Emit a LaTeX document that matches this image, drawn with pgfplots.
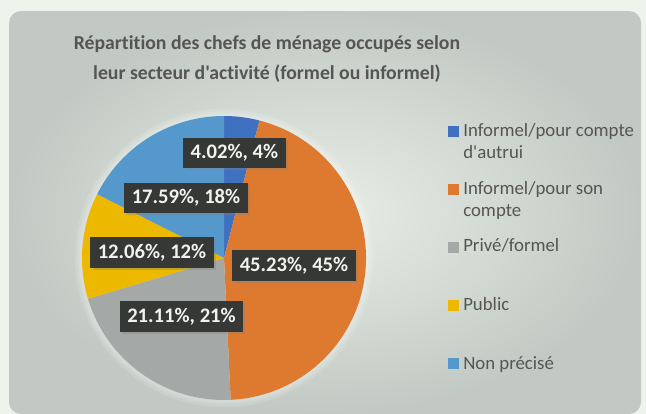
\documentclass[border=0pt]{standalone}
\usepackage{fontspec}
\setmainfont{Carlito}[Ligatures={TeXOff,NoCommon}]
\usepackage{pgfplots}
\pgfplotsset{compat=1.18}
\usepackage{pgfplotstable}
\usetikzlibrary{shadows}

\definecolor{sliceA}{HTML}{4070C0}
\definecolor{sliceB}{HTML}{DE7A2F}
\definecolor{sliceC}{HTML}{A4A9A7}
\definecolor{sliceD}{HTML}{EDB800}
\definecolor{sliceE}{HTML}{5599CC}
\definecolor{pagebg}{HTML}{EEF4EC}
\definecolor{panelout}{HTML}{C2C9C4}
\definecolor{panelin}{HTML}{E8EEE6}
\definecolor{txtgray}{HTML}{555555}
\definecolor{lblbox}{HTML}{363836}
\definecolor{lbltxt}{HTML}{F2F2EE}

% value, colour, label centre (px)
\pgfplotstableread{
value col   lx    ly
4.02  sliceA 234.5 153
45.23 sliceB 294   265.5
21.11 sliceC 181.5 316.5
12.06 sliceD 152   252.5
17.59 sliceE 186   198
}\piedata

\begin{document}
\begin{tikzpicture}
\begin{axis}[
    scale only axis, width=484.5pt, height=310.5pt,
    xmin=0, xmax=646, ymin=0, ymax=414, y dir=reverse,
    hide axis, clip=false]
\pgfplotsextra{
  % background
  \fill[pagebg] (axis cs:0,0) rectangle (axis cs:646,414);
  \shade[inner color=panelin, outer color=panelout, rounded corners=9pt]
     (axis cs:9,11) rectangle (axis cs:641,414);
  % soft glow around the pie
  \foreach \g in {112,110,108.5} {
    \fill[white, opacity=0.12] (axis cs:224,258) circle[radius=\g pt];
  }
  % slices
  \pgfplotstablegetrowsof{\piedata}
  \pgfmathtruncatemacro\nrows{\pgfplotsretval-1}
  \gdef\cum{0}
  \foreach \i in {0,...,\nrows} {
    \pgfplotstablegetelem{\i}{value}\of\piedata \let\pv\pgfplotsretval
    \pgfplotstablegetelem{\i}{col}\of\piedata \let\pc\pgfplotsretval
    \pgfmathsetmacro\sa{90-3.6*\cum}
    \pgfmathsetmacro\sb{90-3.6*(\cum+\pv)}
    \fill[fill=\pc] (axis cs:224,258) -- ++(\sa:106.5pt)
       arc[start angle=\sa, end angle=\sb, radius=106.5pt] -- cycle;
    \pgfmathsetmacro\nc{\cum+\pv}\xdef\cum{\nc}
  }
  % data labels
  \foreach \i in {0,...,\nrows} {
    \pgfplotstablegetelem{\i}{value}\of\piedata \let\pv\pgfplotsretval
    \pgfplotstablegetelem{\i}{lx}\of\piedata \let\px\pgfplotsretval
    \pgfplotstablegetelem{\i}{ly}\of\piedata \let\py\pgfplotsretval
    \node[fill=lblbox, text=lbltxt, font=\bfseries\fontsize{15.5}{18}\selectfont,
          inner xsep=5.5pt, inner ysep=0pt, minimum height=23pt,
          drop shadow={shadow xshift=1.6pt, shadow yshift=-1.6pt, opacity=0.35}]
      at (axis cs:\px,\py)
      {\pgfmathprintnumber[fixed, fixed zerofill, precision=2, assume math mode=true]{\pv}\%,
       \pgfmathprintnumber[fixed, precision=0, assume math mode=true]{\pv}\%};
  }
}
% title
\node[font=\bfseries\fontsize{14.8}{22.5}\selectfont, text=txtgray, align=center]
  at (axis cs:267,59) {Répartition des chefs de ménage occupés selon\\leur secteur d'activité (formel ou informel)};
% legend
\begin{scope}[every node/.style={anchor=base west, inner sep=0pt, text=txtgray,
     font=\fontsize{14.1}{17}\selectfont}]
  \fill[sliceA] (axis cs:448,125.5) rectangle (axis cs:459,136.5);
  \node at (axis cs:463,136.5) {Informel/pour compte};
  \node at (axis cs:463,158.5) {d'autrui};
  \fill[sliceB] (axis cs:448,183.5) rectangle (axis cs:459,194.5);
  \node at (axis cs:463,194.3) {Informel/pour son};
  \node at (axis cs:463,216) {compte};
  \fill[sliceC] (axis cs:448,241.5) rectangle (axis cs:459,252.5);
  \node at (axis cs:463,251.7) {Privé/formel};
  \fill[sliceD] (axis cs:448,300) rectangle (axis cs:459,311);
  \node at (axis cs:463,310.7) {Public};
  \fill[sliceE] (axis cs:448,358) rectangle (axis cs:459,369);
  \node at (axis cs:463,369.3) {Non précisé};
\end{scope}
\end{axis}
\end{tikzpicture}
\end{document}
